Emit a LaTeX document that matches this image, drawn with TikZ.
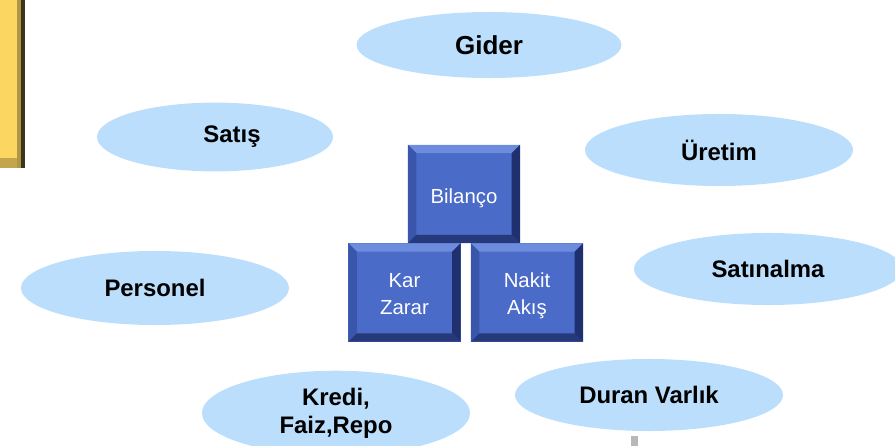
\documentclass[tikz,border=0pt]{standalone}
\usepackage{fontspec}
\setmainfont{Liberation Sans}
\usepackage{tikz}
\usetikzlibrary{shapes.geometric, positioning}

\definecolor{bubble}{RGB}{186,222,251}
\definecolor{blockblue}{RGB}{74,107,200}
\definecolor{blocklight}{RGB}{110,140,222}
\definecolor{blockdark}{RGB}{32,48,110}
\definecolor{blockmid}{RGB}{58,86,170}
\definecolor{tabyellow}{RGB}{251,214,96}
\definecolor{tabdark}{RGB}{60,52,30}

\tikzset{
  topic/.style={ellipse, fill=bubble, minimum width=6.7cm, minimum height=1.8cm,
    align=center, font=\fontsize{17}{20}\selectfont\bfseries},
  blockbox/.style={rectangle, fill=blockblue, minimum width=2.8cm, minimum height=2.46cm,
    text=white, font=\fontsize{14.5}{19}\selectfont,
    path picture={
      % bevel edges
      \fill[blocklight] (path picture bounding box.north west) -- (path picture bounding box.north east)
        -- ([xshift=-6pt,yshift=-6pt]path picture bounding box.north east)
        -- ([xshift=6pt,yshift=-6pt]path picture bounding box.north west) -- cycle;
      \fill[blockmid] (path picture bounding box.north west) -- ([xshift=6pt,yshift=-6pt]path picture bounding box.north west)
        -- ([xshift=6pt,yshift=6pt]path picture bounding box.south west)
        -- (path picture bounding box.south west) -- cycle;
      \fill[blockdark] (path picture bounding box.north east) -- ([xshift=-6pt,yshift=-6pt]path picture bounding box.north east)
        -- ([xshift=-6pt,yshift=6pt]path picture bounding box.south east)
        -- (path picture bounding box.south east) -- cycle;
      \fill[blockdark!85!blockblue] (path picture bounding box.south west) -- ([xshift=6pt,yshift=6pt]path picture bounding box.south west)
        -- ([xshift=-6pt,yshift=6pt]path picture bounding box.south east)
        -- (path picture bounding box.south east) -- cycle;
    }}
}
\newcommand{\blocktext}[2]{\raisebox{#1}[\height][\depth]{\begin{tabular}{@{}c@{}}#2\end{tabular}}}

\begin{document}
\begin{tikzpicture}[x=0.025cm, y=-0.025cm]
  \useasboundingbox (0,0) rectangle (895,446);
  \clip (0,0) rectangle (895,446);

  % yellow tab at the left
  \fill[tabyellow] (-10,-10) rectangle (25,168);
  \fill[tabyellow!70!tabdark] (-10,158) rectangle (25,168);
  \fill[tabyellow!60!tabdark] (17,-10) rectangle (21,168);
  \fill[tabdark] (21,-10) rectangle (25,168);

  % topics
  \node[topic, minimum width=6.62cm, minimum height=1.65cm] (gider) at (489,45) {\fontsize{18.5}{20}\selectfont Gider};
  \node[topic, minimum width=5.9cm, minimum height=1.72cm] (satis) at (215,137) {\hspace*{0.85cm}Satış};
  \node[topic] (uretim) at (719,150) {Üretim};
  \node[topic, minimum height=1.85cm] (personel) at (155,288) {Personel};
  \node[topic] (satinalma) at (768,269) {Satınalma};
  \node[topic, minimum height=1.9cm] (kredi) at (336,413) {Kredi,\\Faiz,Repo};
  \node[topic] (duran) at (649,395) {Duran Varlık};

  % statements
  \node[blockbox] (bilanco) at (464,194) {\blocktext{-3pt}{Bilanço}};
  \node[blockbox] (karzarar) at (404.5,292.5) {\blocktext{-2pt}{Kar\\Zarar}};
  \node[blockbox] (nakit) at (527,292.5) {\blocktext{-2pt}{Nakit\\Akış}};

  % small grey mark at the bottom
  \fill[black!28] (631,436) rectangle (638,450);
\end{tikzpicture}
\end{document}
